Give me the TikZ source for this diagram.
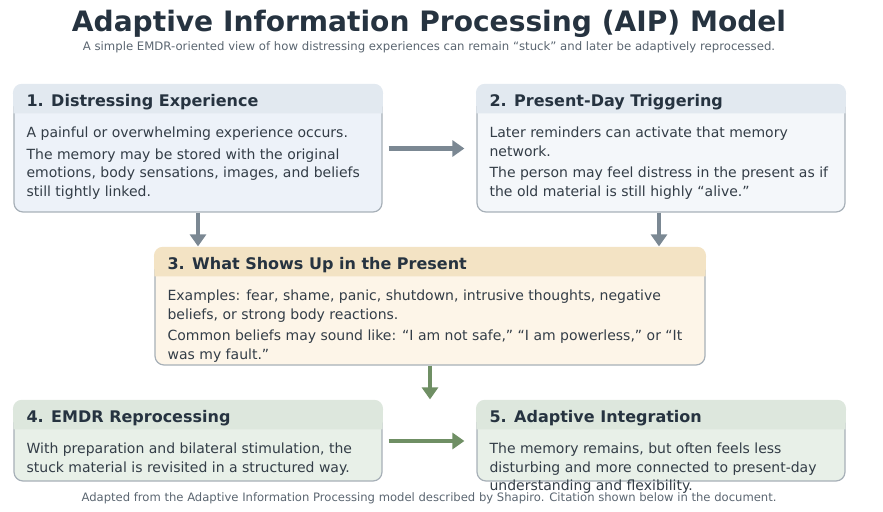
\documentclass[tikz,border=0pt]{standalone}
\usepackage{fontspec}
\setmainfont{DejaVu Sans}
\usepackage{xcolor}
\usetikzlibrary{arrows.meta,positioning}
\definecolor{inkdark}{HTML}{263340}
\definecolor{inkbody}{HTML}{333D47}
\definecolor{inkmuted}{HTML}{5A6570}
\definecolor{cardline}{HTML}{A7B0B8}
\definecolor{blueHead}{HTML}{E2E9F0}
\definecolor{blueBody}{HTML}{EDF2F9}
\definecolor{greyBody}{HTML}{F4F7FA}
\definecolor{sandHead}{HTML}{F3E3C4}
\definecolor{sandBody}{HTML}{FDF5E8}
\definecolor{sageHead}{HTML}{DDE7DD}
\definecolor{sageBody}{HTML}{E8F0E8}
\definecolor{flowGrey}{HTML}{7B8893}
\definecolor{flowGreen}{HTML}{6F8F64}
\newcommand{\cardhead}[2]{\fill[#2] ([yshift=-29bp]#1.north west) [rounded corners=9bp] -- ([xshift=-0.6bp,yshift=0.6bp]#1.north west) -- ([xshift=0.6bp,yshift=0.6bp]#1.north east) [sharp corners] -- ([yshift=-29bp]#1.north east) -- cycle;}

\begin{document}
\begin{tikzpicture}[x=1bp, y=-1bp,
  card/.style={draw=cardline, line width=1.2bp, rounded corners=9bp, inner sep=0pt},
  cardtitle/.style={anchor=base west, inner sep=0pt, font=\fontsize{16bp}{18bp}\selectfont\bfseries, text=inkdark},
  cardtext/.style={anchor=north west, inner sep=0pt, align=left, font=\fontsize{14bp}{18.8bp}\selectfont, text=inkbody},
  arr/.style={-{Triangle[length=12bp,width=16bp]}, line width=4.5bp},
]
  \useasboundingbox (0,0) rectangle (883,512);

  \node[font=\fontsize{28.1bp}{31bp}\selectfont\bfseries, text=inkdark, anchor=base] (title) at (429,31.5) {Adaptive Information Processing (AIP) Model};
  \node[font=\fontsize{11.7bp}{14bp}\selectfont, text=inkmuted, anchor=base] (subtitle) at (429,51) {A simple EMDR-oriented view of how distressing experiences can remain “stuck” and later be adaptively reprocessed.};

  % cards
  \node[card, fill=blueBody, minimum width=368bp, minimum height=127bp] (exp) at (198,148.5) {};
  \node[card, fill=greyBody, minimum width=368bp, minimum height=127bp] (trig) at (661,148.5) {};
  \node[card, fill=sandBody, minimum width=550bp, minimum height=117bp] (shows) at (430,306.5) {};
  \node[card, fill=sageBody, minimum width=368bp, minimum height=80bp] (repro) at (198,441) {};
  \node[card, fill=sageBody, minimum width=368bp, minimum height=80bp] (integ) at (661,441) {};

  \cardhead{exp}{blueHead}
  \cardhead{trig}{blueHead}
  \cardhead{shows}{sandHead}
  \cardhead{repro}{sageHead}
  \cardhead{integ}{sageHead}

  \node[cardtitle] (expT) at ([xshift=13bp,yshift=-22.5bp]exp.north west) {1. Distressing Experience};
  \node[cardtext] (expB) at ([xshift=13bp,yshift=-42bp]exp.north west) {A painful or overwhelming experience occurs.\\[3bp]The memory may be stored with the original\\emotions, body sensations, images, and beliefs\\still tightly linked.};

  \node[cardtitle] (trigT) at ([xshift=13bp,yshift=-22.5bp]trig.north west) {2. Present-Day Triggering};
  \node[cardtext] (trigB) at ([xshift=13bp,yshift=-42bp]trig.north west) {Later reminders can activate that memory\\network.\\[3bp]The person may feel distress in the present as if\\the old material is still highly “alive.”};

  \node[cardtitle] (showsT) at ([xshift=13bp,yshift=-22.5bp]shows.north west) {3. What Shows Up in the Present};
  \node[cardtext] (showsB) at ([xshift=13bp,yshift=-42bp]shows.north west) {Examples: fear, shame, panic, shutdown, intrusive thoughts, negative\\beliefs, or strong body reactions.\\[3bp]Common beliefs may sound like: “I am not safe,” “I am powerless,” or “It\\was my fault.”};

  \node[cardtitle] (reproT) at ([xshift=13bp,yshift=-22.5bp]repro.north west) {4. EMDR Reprocessing};
  \node[cardtext] (reproB) at ([xshift=13bp,yshift=-42bp]repro.north west) {With preparation and bilateral stimulation, the\\stuck material is revisited in a structured way.};

  \node[cardtitle] (integT) at ([xshift=13bp,yshift=-22.5bp]integ.north west) {5. Adaptive Integration};
  \node[cardtext] (integB) at ([xshift=13bp,yshift=-42bp]integ.north west) {The memory remains, but often feels less\\disturbing and more connected to present-day\\understanding and flexibility.};

  % flow
  \draw[arr, flowGrey, shorten <=6bp, shorten >=12bp] (exp) -- (trig);
  \draw[arr, flowGrey, shorten >=1bp] (exp.south) -- (exp.south |- shows.north);
  \draw[arr, flowGrey, shorten >=1bp] ([xshift=-2bp]trig.south) -- ([xshift=-2bp]trig.south |- shows.north);
  \draw[arr, flowGreen, shorten >=1bp] (shows.south) -- (shows.south |- repro.north);
  \draw[arr, flowGreen, shorten <=6bp, shorten >=12bp] (repro) -- (integ);

  \node[font=\fontsize{11.6bp}{14bp}\selectfont, text=inkmuted, anchor=base] (footer) at (429,501) {Adapted from the Adaptive Information Processing model described by Shapiro. Citation shown below in the document.};
\end{tikzpicture}
\end{document}
